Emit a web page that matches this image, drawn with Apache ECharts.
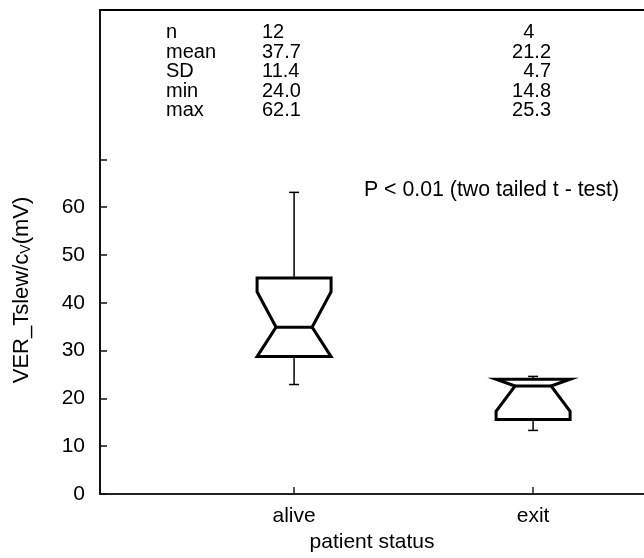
<!DOCTYPE html>
<html><head><meta charset="utf-8">
<script src="https://cdn.jsdelivr.net/npm/echarts@6/dist/echarts.min.js"></script>
<style>html,body{margin:0;padding:0;background:#fff}#c{width:644px;height:558px}</style>
</head><body><div id="c"></div>
<script>
// ---- data ----
const categories = ['alive', 'exit'];
const whiskerLow = [22.9, 13.3];
const q1 = [28.75, 15.6];
const notchLow = [27.5, 17.3];
const median = [34.9, 22.6];
const notchHigh = [42.3, 28.0];
const q3 = [45.2, 24.0];
const whiskerHigh = [63.1, 24.6];
const yTickValues = [0, 10, 20, 30, 40, 50, 60, 70];
const yLabelValues = [0, 10, 20, 30, 40, 50, 60];
const statLabels = ['n', 'mean', 'SD', 'min', 'max'];
const aliveStats = ['12', '37.7', '11.4', '24.0', '62.1'];
const exitStats = ['4', '21.2', '4.7', '14.8', '25.3'];
const pText = 'P < 0.01 (two tailed t - test)';
const yName = 'VER_Tslew/c{sub|V}(mV)';
const xName = 'patient status';

const FONT = '"Liberation Sans", Arial, sans-serif';
const FS = 20;
const FS_AX = 21;

const boxData = categories.map((c, i) => [i + 1, whiskerLow[i], q1[i], notchLow[i], median[i], notchHigh[i], q3[i], whiskerHigh[i]]);

function renderItem(params, api) {
  const x = api.value(0);
  const WL = api.value(1), Q1 = api.value(2), NL = api.value(3), M = api.value(4),
        NH = api.value(5), Q3 = api.value(6), WH = api.value(7);
  const W = 37, WI = 18, CAP = 5;
  const P = (dx, v) => { const p = api.coord([x, v]); return [p[0] + dx, p[1]]; };
  const pts = [];
  pts.push(P(-W, Q1));
  if (NL > Q1) pts.push(P(-W, NL));
  pts.push(P(-WI, M));
  if (NH < Q3) pts.push(P(-W, NH));
  pts.push(P(-W, Q3));
  pts.push(P(W, Q3));
  if (NH < Q3) pts.push(P(W, NH));
  pts.push(P(WI, M));
  if (NL > Q1) pts.push(P(W, NL));
  pts.push(P(W, Q1));
  const thin = { stroke: '#000', lineWidth: 1.5 };
  const line = (a, b, st) => ({ type: 'line', shape: { x1: a[0], y1: a[1], x2: b[0], y2: b[1] }, style: st });
  return {
    type: 'group',
    children: [
      line(P(0, Q3), P(0, WH), thin),
      line(P(-CAP, WH), P(CAP, WH), thin),
      line(P(0, Q1), P(0, WL), thin),
      line(P(-CAP, WL), P(CAP, WL), thin),
      { type: 'polygon', shape: { points: pts }, style: { fill: 'none', stroke: '#000', lineWidth: 3, lineJoin: 'miter', miterLimit: 10 } },
      line(P(-WI, M), P(WI, M), { stroke: '#000', lineWidth: 3 })
    ]
  };
}

// decimal alignment helper for the stats table
const measureCtx = document.createElement('canvas').getContext('2d');
measureCtx.font = FS + 'px ' + FONT;
const fracW = measureCtx.measureText('.0').width;

const ts = (size) => ({ fontFamily: FONT, fontSize: size, fill: '#000' });
const graphics = [];
const rowY0 = 32.5, rowStep = 19.6;
statLabels.forEach((s, i) => {
  const y = rowY0 + i * rowStep;
  graphics.push({ type: 'text', x: 166, y: y, style: Object.assign({ text: s, textAlign: 'left', textVerticalAlign: 'middle' }, ts(FS)) });
  graphics.push({ type: 'text', x: 262, y: y, style: Object.assign({ text: aliveStats[i], textAlign: 'left', textVerticalAlign: 'middle' }, ts(FS)) });
  const ev = exitStats[i];
  const ex = ev.indexOf('.') < 0 ? 551 - fracW : 551;
  graphics.push({ type: 'text', x: ex, y: y, style: Object.assign({ text: ev, textAlign: 'right', textVerticalAlign: 'middle' }, ts(FS)) });
});
graphics.push({ type: 'text', x: 364, y: 190, style: Object.assign({ text: pText, textAlign: 'left', textVerticalAlign: 'middle' }, ts(21.3)) });
graphics.push({
  type: 'text', x: 22, y: 290, rotation: Math.PI / 2,
  style: Object.assign({
    text: yName, textAlign: 'center', textVerticalAlign: 'middle',
    rich: { sub: { fontFamily: FONT, fontSize: 14, padding: [9, 0, 0, 0], fill: '#000' } }
  }, ts(22))
});

const chart = echarts.init(document.getElementById('c'), null, { renderer: 'canvas' });
chart.setOption({
  backgroundColor: '#fff',
  animation: false,
  grid: { left: 100, right: 0, top: 10, bottom: 62, containLabel: false },
  xAxis: [{
    type: 'value', min: 0.188, max: 2.464, position: 'bottom',
    name: xName, nameLocation: 'middle', nameGap: 38,
    nameTextStyle: { fontFamily: FONT, fontSize: FS_AX, color: '#000' },
    axisLine: { show: true, onZero: false, lineStyle: { color: '#222', width: 2 } },
    axisTick: { show: true, inside: true, length: 7, customValues: [1, 2], lineStyle: { color: '#222', width: 1.5 } },
    axisLabel: { show: true, customValues: [1, 2], margin: 12, fontFamily: FONT, fontSize: FS_AX, color: '#000',
      formatter: v => categories[Math.round(v) - 1] || '' },
    splitLine: { show: false }
  }, {
    type: 'value', min: 0.188, max: 2.464, position: 'top',
    axisLine: { show: true, onZero: false, lineStyle: { color: '#000', width: 2 } },
    axisTick: { show: false }, axisLabel: { show: false }, splitLine: { show: false }
  }],
  yAxis: {
    type: 'value', min: 0, max: 101.25,
    axisLine: { show: true, onZero: false, lineStyle: { color: '#111', width: 2 } },
    axisTick: { show: true, inside: true, length: 7, customValues: yTickValues, lineStyle: { color: '#111', width: 1.5 } },
    axisLabel: { show: true, customValues: yLabelValues, margin: 15, fontFamily: FONT, fontSize: FS_AX, color: '#000' },
    splitLine: { show: false }
  },
  series: [{
    type: 'custom', renderItem: renderItem, data: boxData, clip: false,
    encode: { x: 0, y: [1, 2, 3, 4, 5, 6, 7] }
  }],
  graphic: graphics
});
</script>
</body></html>
